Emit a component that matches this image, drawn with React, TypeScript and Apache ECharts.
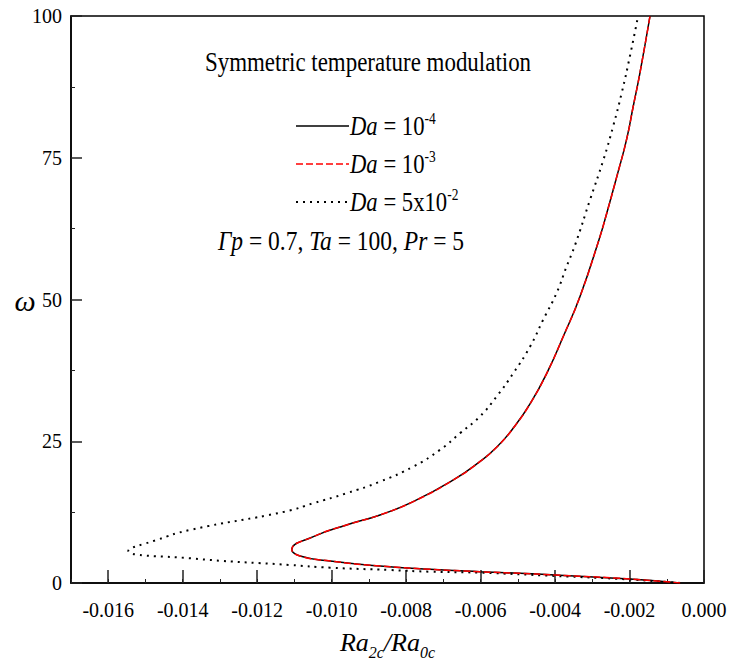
import React, { useEffect, useRef } from "react";
import * as echarts from "echarts";

const FONT = "Liberation Serif, Times New Roman, serif";

// x-axis major tick labels (Ra2c/Ra0c)
const xMajorTicks = [-0.016, -0.014, -0.012, -0.01, -0.008, -0.006, -0.004, -0.002, 0];
const yTicks = [0, 25, 50, 75, 100];

// Da = 10^-4 (solid black)
const ratioDa4 = [
  -0.00064, -0.00199, -0.004, -0.00494, -0.00602, -0.00736, -0.0087, -0.01004, -0.01085, -0.01107,
  -0.01049, -0.0096, -0.0087, -0.00781, -0.00673, -0.00602, -0.00555, -0.00509, -0.00466, -0.00422,
  -0.00378, -0.00333, -0.00282, -0.00261, -0.00234, -0.00208, -0.0019, -0.00172, -0.00145,
];
const omegaDa4 = [
  0, 0.71, 1.41, 1.71, 1.99, 2.42, 3.0, 3.88, 4.77, 5.9,
  8.17, 10.24, 12.0, 14.35, 18.18, 21.41, 24.06, 27.59, 31.72, 37.02,
  43.48, 50.54, 60.55, 65.26, 71.72, 78.2, 84.08, 89.97, 100,
];

// Da = 10^-3 (red dashed, practically coincident with Da = 10^-4)
const ratioDa3 = [
  -0.00064, -0.00199, -0.004, -0.00494, -0.00602, -0.00736, -0.0087, -0.01004, -0.01085, -0.01107,
  -0.01049, -0.0096, -0.0087, -0.00781, -0.00673, -0.00602, -0.00555, -0.00509, -0.00466, -0.00422,
  -0.00378, -0.00333, -0.00282, -0.00261, -0.00234, -0.00208, -0.0019, -0.00172, -0.00145,
];
const omegaDa3 = [
  0, 0.71, 1.41, 1.71, 1.99, 2.42, 3.0, 3.88, 4.77, 5.9,
  8.17, 10.24, 12.0, 14.35, 18.18, 21.41, 24.06, 27.59, 31.72, 37.02,
  43.48, 50.54, 60.55, 65.26, 71.72, 78.2, 84.08, 89.97, 100,
];

// Da = 5x10^-2 (dotted)
const ratioDa5e2 = [
  -0.00064, -0.00199, -0.004, -0.00602, -0.00736, -0.00843, -0.01004, -0.01112, -0.0138, -0.01546,
  -0.0147, -0.0138, -0.01125, -0.01049, -0.0096, -0.0087, -0.00781, -0.00709, -0.00655, -0.00602,
  -0.00557, -0.00512, -0.00467, -0.00432, -0.00396, -0.00369, -0.00346, -0.00306, -0.0027, -0.00244,
  -0.00221, -0.00199, -0.00177,
];
const omegaDa5e2 = [
  0, 0.62, 1.24, 1.82, 1.99, 2.29, 2.7, 3.18, 4.36, 5.7,
  7.59, 9.36, 12.59, 14.07, 15.83, 17.88, 20.53, 23.48, 26.43, 29.36,
  32.89, 37.02, 41.71, 46.42, 51.14, 55.83, 59.66, 67.61, 74.67, 80.55,
  86.44, 92.9, 100,
];

const zip = (xs: number[], ys: number[]) => xs.map((x, i) => [x, ys[i]]);

const legendRows = [
  { y: 126, label: "{i|Da} = 10{sup|-4}", color: "#000", dash: "solid", width: 1.5 },
  { y: 164, label: "{i|Da} = 10{sup|-3}", color: "#ff0000", dash: [7, 3], width: 1.5 },
  { y: 202, label: "{i|Da} = 5x10{sup|-2}", color: "#000", dash: [2, 5], width: 2 },
];

export default function App() {
  const ref = useRef<HTMLDivElement>(null);

  useEffect(() => {
    if (!ref.current) return;
    const chart = echarts.init(ref.current, undefined, { renderer: "svg" });

    const richText = {
      i: { fontFamily: FONT, fontStyle: "italic", fontSize: 27, lineHeight: 30, fill: "#000" },
      sup: { fontFamily: FONT, fontSize: 16, lineHeight: 14, verticalAlign: "top", fill: "#000" },
    };

    const graphics: any[] = [
      {
        type: "text",
        x: 368,
        y: 62,
        scaleX: 0.85,
        style: {
          text: "Symmetric temperature modulation",
          fontFamily: FONT,
          fontSize: 27,
          fill: "#000",
          align: "center",
          verticalAlign: "middle",
        },
      },
      {
        type: "text",
        x: 218,
        y: 240,
        scaleX: 0.87,
        style: {
          text: "{i|Γp} = 0.7, {i|Ta} = 100, {i|Pr} = 5",
          rich: richText,
          fontFamily: FONT,
          fontSize: 27,
          lineHeight: 30,
          fill: "#000",
          align: "left",
          verticalAlign: "middle",
        },
      },
      {
        type: "text",
        x: 25,
        y: 300,
        style: {
          text: "ω",
          fontFamily: FONT,
          fontStyle: "italic",
          fontSize: 30,
          fill: "#000",
          align: "center",
          verticalAlign: "middle",
        },
      },
    ];

    legendRows.forEach((r) => {
      graphics.push({
        type: "line",
        shape: { x1: 296, y1: r.y, x2: 349, y2: r.y },
        style: {
          stroke: r.color,
          lineWidth: r.width,
          lineDash: r.dash === "solid" ? null : r.dash,
        },
      });
      graphics.push({
        type: "text",
        x: 350,
        y: r.y,
        scaleX: 0.84,
        style: {
          text: r.label,
          rich: richText,
          fontFamily: FONT,
          fontSize: 27,
          lineHeight: 30,
          fill: "#000",
          align: "left",
          verticalAlign: "middle",
        },
      });
    });

    const tickStyle = { color: "#222", width: 1.5 };

    chart.setOption({
      animation: false,
      backgroundColor: "#fff",
      textStyle: { fontFamily: FONT },
      grid: {
        left: 71,
        right: 25,
        top: 16,
        bottom: 85,
        show: true,
        borderColor: "#000",
        borderWidth: 1.5,
        containLabel: false,
        outerBoundsMode: "none",
      },
      xAxis: [
        {
          type: "value",
          position: "bottom",
          min: -0.017,
          max: 0,
          axisLine: { show: true, onZero: false, lineStyle: { color: "#000", width: 1.5 } },
          axisTick: { show: true, inside: true, length: 13, customValues: xMajorTicks, lineStyle: tickStyle },
          axisLabel: {
            customValues: xMajorTicks,
            formatter: (v: number) => v.toFixed(3),
            fontFamily: FONT,
            fontSize: 20,
            color: "#000",
            margin: 17,
          },
          splitLine: { show: false },
          name: "{i|Ra}{sub|2c}{i|/Ra}{sub|0c}",
          nameLocation: "middle",
          nameGap: 41,
          nameTextStyle: {
            fontFamily: FONT,
            fontSize: 26,
            color: "#000",
            rich: {
              i: { fontFamily: FONT, fontStyle: "italic", fontSize: 26, lineHeight: 36, color: "#000" },
              sub: { fontFamily: FONT, fontStyle: "italic", fontSize: 16, lineHeight: 16, verticalAlign: "bottom", color: "#000" },
            },
          },
        },
        {
          type: "value",
          position: "bottom",
          min: -0.017,
          max: 0,
          interval: 0.001,
          axisLine: { show: false, onZero: false },
          axisTick: { show: true, inside: true, length: 4, lineStyle: { color: "#222", width: 1 } },
          axisLabel: { show: false },
          splitLine: { show: false },
        },
      ],
      yAxis: {
        type: "value",
        min: 0,
        max: 100,
        interval: 25,
        axisLine: { show: true, onZero: false, lineStyle: { color: "#000", width: 1.5 } },
        axisTick: { show: true, inside: true, length: 11, lineStyle: tickStyle },
        minorTick: { show: true, splitNumber: 2, length: 4, lineStyle: { color: "#222", width: 1 } },
        axisLabel: {
          formatter: (v: number) => String(v),
          fontFamily: FONT,
          fontSize: 20,
          color: "#000",
          margin: 9,
        },
        splitLine: { show: false },
        minorSplitLine: { show: false },
      },
      series: [
        {
          name: "Da = 10^-4",
          type: "line",
          xAxisIndex: 0,
          data: zip(ratioDa4, omegaDa4),
          showSymbol: false,
          symbol: "none",
          smooth: 0.5,
          lineStyle: { color: "#000", width: 1.5, type: "solid" },
          z: 3,
        },
        {
          name: "Da = 10^-3",
          type: "line",
          xAxisIndex: 0,
          data: zip(ratioDa3, omegaDa3),
          showSymbol: false,
          symbol: "none",
          smooth: 0.5,
          lineStyle: { color: "#ff0000", width: 1.5, type: [7, 3] },
          z: 4,
        },
        {
          name: "Da = 5x10^-2",
          type: "line",
          xAxisIndex: 0,
          data: zip(ratioDa5e2, omegaDa5e2),
          showSymbol: false,
          symbol: "none",
          smooth: 0.5,
          lineStyle: { color: "#000", width: 2, type: [2, 5] },
          z: 3,
        },
      ],
      graphic: graphics,
    });

    return () => chart.dispose();
  }, []);

  return <div ref={ref} style={{ width: 729, height: 668, position: "absolute", left: 0, top: 0 }} />;
}
